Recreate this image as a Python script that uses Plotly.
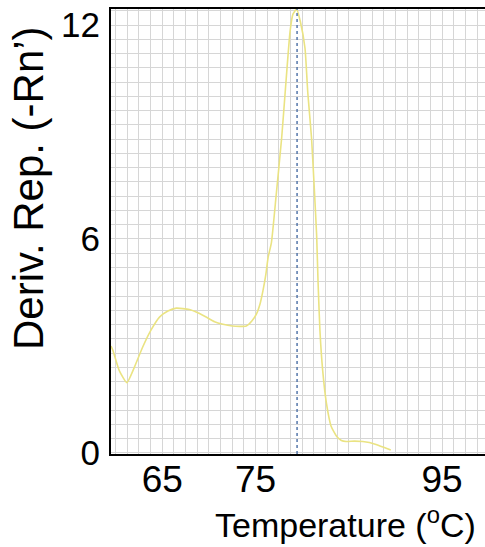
import plotly.graph_objects as go

# Melt curve data (temperature in degC, derivative reporter -Rn')
temperature = [59.5, 59.7, 60.4, 61.2, 62.0, 62.9, 63.8, 64.7, 65.6, 66.5, 67.9, 68.8,
               69.7, 70.6, 71.5, 72.5, 73.3, 74.0, 74.6, 75.1, 75.5, 75.8, 76.1, 76.35,
               76.7, 77.2, 77.8, 78.2, 78.7, 79.0, 79.4, 79.8, 80.3, 80.6, 81.0, 81.3,
               81.55, 81.7, 81.9, 82.2, 82.6, 83.1, 83.7, 84.2, 84.7, 85.6, 86.5, 87.2,
               88.0, 88.8, 89.5]
deriv = [3.0, 2.88, 2.3, 1.97, 2.4, 2.97, 3.45, 3.81, 3.98, 4.06, 4.02, 3.93,
         3.81, 3.68, 3.61, 3.56, 3.55, 3.56, 3.7, 3.9, 4.2, 4.56, 5.0, 5.49,
         5.9, 7.2, 8.84, 10.2, 11.82, 12.3, 12.45, 12.1, 11.35, 10.1, 8.84, 7.4,
         6.1, 4.8, 3.44, 2.3, 1.39, 0.75, 0.46, 0.35, 0.32, 0.33, 0.32, 0.29,
         0.23, 0.15, 0.08]
tm_value = 79.45

x_tick_vals = [65, 75, 95]
x_tick_text = ["65", "75", "95"]
y_tick_vals = [0, 6, 12]
y_tick_text = ["0", "6", "12"]

x_title = "Temperature (<sup>o</sup>C)"
y_title = "Deriv. Rep. (-Rn’)"

FONT = "Liberation Sans, Arial, sans-serif"

fig = go.Figure()
fig.add_trace(go.Scatter(
    x=temperature, y=deriv, mode="lines",
    line=dict(color="rgb(234,227,130)", width=1.6, shape="spline", smoothing=0.5),
    hoverinfo="skip", showlegend=False,
))
fig.add_vline(x=tm_value, line=dict(color="#5577aa", width=1.5, dash="dot"))

W, H = 485, 547
ml, mr, mt, mb = 111, 0, 9, 93
pw, ph = W - ml - mr, H - mt - mb

fig.update_layout(
    width=W, height=H,
    margin=dict(l=ml, r=mr, t=mt, b=mb, pad=0, autoexpand=False),
    paper_bgcolor="white", plot_bgcolor="white",
    font=dict(family=FONT, color="black"),
    xaxis=dict(
        range=[59.5, 99.6], tickvals=x_tick_vals, ticktext=x_tick_text,
        tickfont=dict(size=37, family=FONT, color="black"),
        showgrid=True, gridcolor="#d6d6d6", gridwidth=1,
        minor=dict(dtick=1.25, tick0=0, showgrid=True, gridcolor="#d6d6d6", gridwidth=1),
        showline=True, linecolor="black", linewidth=2, mirror=True,
        ticks="", zeroline=False, ticklabelstandoff=-8, automargin=False,
    ),
    yaxis=dict(
        range=[-0.03, 12.45], tickvals=y_tick_vals, ticktext=y_tick_text,
        tickfont=dict(size=35, family=FONT, color="black"),
        showgrid=True, gridcolor="#d6d6d6", gridwidth=1,
        minor=dict(dtick=0.4, tick0=0, showgrid=True, gridcolor="#d6d6d6", gridwidth=1),
        showline=True, linecolor="black", linewidth=2,
        ticks="", zeroline=False, ticklabelstandoff=2, automargin=False,
    ),
    annotations=[
        dict(text=x_title, xref="paper", yref="paper",
             x=(345 - ml) / pw, y=(H - mb - 522) / ph,
             xanchor="center", yanchor="middle", showarrow=False,
             font=dict(size=34, family=FONT, color="black")),
        dict(text=y_title, xref="paper", yref="paper",
             x=(28 - ml) / pw, y=(H - mb - 188) / ph, textangle=-90,
             xanchor="center", yanchor="middle", showarrow=False,
             font=dict(size=42, family=FONT, color="black")),
    ],
)

fig.write_html("out.html", config={"displayModeBar": False},
               post_script="document.body.style.margin='0';")
